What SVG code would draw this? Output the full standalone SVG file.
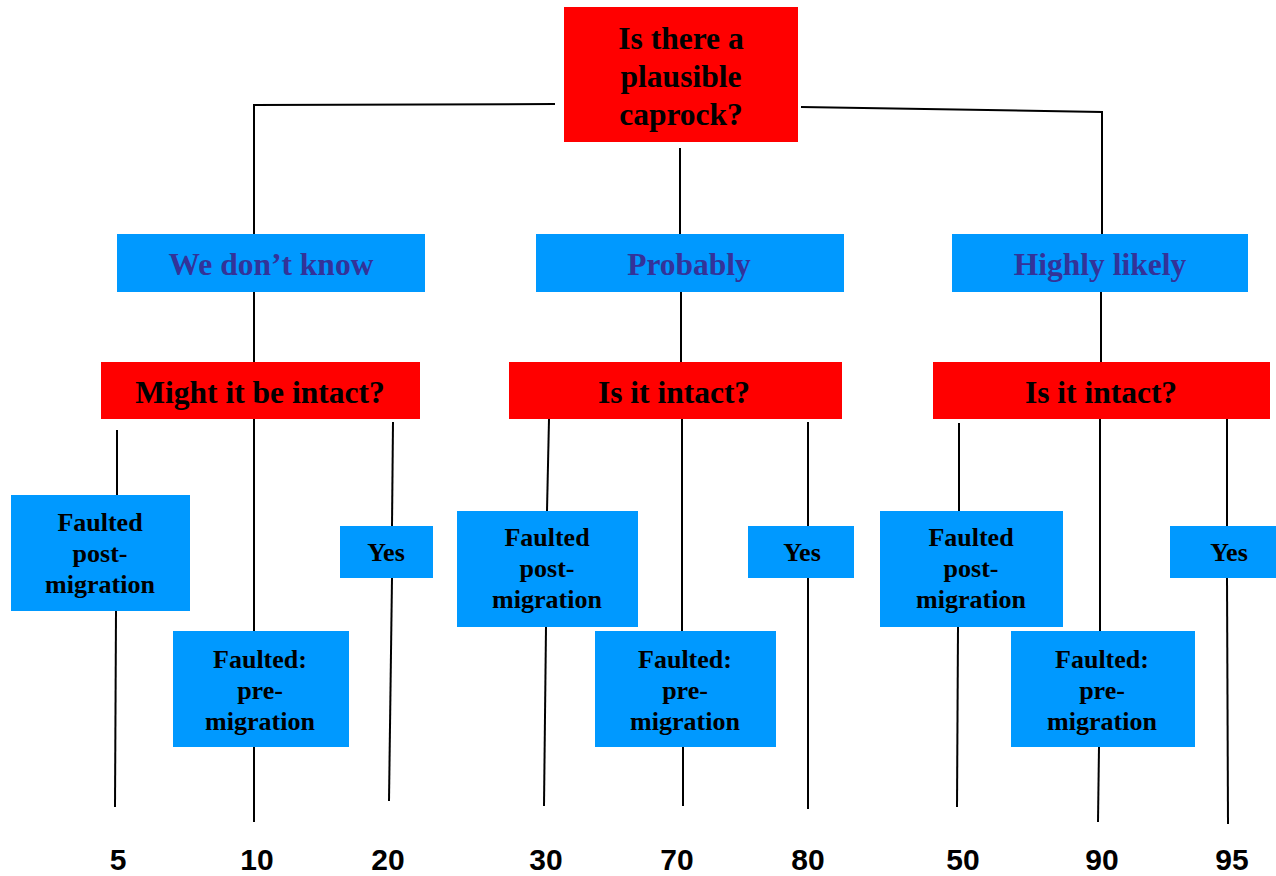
<svg xmlns="http://www.w3.org/2000/svg" width="1276" height="876" viewBox="0 0 1276 876">
<style>
.red{fill:#FF0000}
.blue{fill:#0099FF}
.q{font-family:"Liberation Serif","Times New Roman",serif;font-weight:bold;font-size:31.5px;fill:#000;text-anchor:middle}
.a{font-family:"Liberation Serif","Times New Roman",serif;font-weight:bold;font-size:31.5px;fill:#333399;text-anchor:middle}
.s{font-family:"Liberation Serif","Times New Roman",serif;font-weight:bold;font-size:26px;fill:#000;text-anchor:middle}
.n{font-family:"Liberation Sans",Arial,sans-serif;font-weight:bold;font-size:30px;fill:#000;text-anchor:middle}
.ln{stroke:#000;stroke-width:2;fill:none}
</style>
<rect width="1276" height="876" fill="#fff"/>
<g id="connectors" class="ln">
<polyline points="555,104 254,105 254,234"/>
<polyline points="801,107 1102,112 1102,234"/>
<line x1="680" y1="148" x2="680" y2="234"/>
<line x1="254" y1="292" x2="254" y2="362"/>
<line x1="681" y1="292" x2="681" y2="362"/>
<line x1="1101" y1="292" x2="1101" y2="362"/>
<line x1="117" y1="430" x2="117" y2="495"/>
<line x1="116" y1="611" x2="115" y2="807"/>
<line x1="254" y1="419" x2="254" y2="631"/>
<line x1="254" y1="747" x2="254" y2="822"/>
<line x1="393" y1="422" x2="392" y2="526"/>
<line x1="392" y1="578" x2="389" y2="801"/>
<line x1="549" y1="419" x2="547" y2="511"/>
<line x1="546" y1="627" x2="544" y2="806"/>
<line x1="682" y1="419" x2="682" y2="631"/>
<line x1="683" y1="747" x2="683" y2="806"/>
<line x1="808" y1="422" x2="808" y2="526"/>
<line x1="808" y1="578" x2="808" y2="809"/>
<line x1="959" y1="423" x2="959" y2="511"/>
<line x1="958" y1="627" x2="957" y2="807"/>
<line x1="1100" y1="419" x2="1100" y2="631"/>
<line x1="1099" y1="747" x2="1098" y2="822"/>
<line x1="1227" y1="419" x2="1227" y2="526"/>
<line x1="1227" y1="578" x2="1228" y2="824"/>
</g>
<g id="n-root"><rect class="red" x="564" y="7" width="234" height="135"/>
<text class="q" x="681" y="49">Is there a</text><text class="q" x="681" y="87">plausible</text><text class="q" x="681" y="125">caprock?</text></g>
<g id="n-dontknow"><rect class="blue" x="117" y="234" width="308" height="58"/><text class="a" x="271" y="275">We don’t know</text></g>
<g id="n-probably"><rect class="blue" x="536" y="234" width="308" height="58"/><text class="a" x="689" y="275">Probably</text></g>
<g id="n-highly"><rect class="blue" x="952" y="234" width="296" height="58"/><text class="a" x="1100" y="275">Highly likely</text></g>
<g id="n-might"><rect class="red" x="101" y="362" width="319" height="57"/><text class="q" x="260" y="403">Might it be intact?</text></g>
<g id="n-intact1"><rect class="red" x="509" y="362" width="333" height="57"/><text class="q" x="674" y="403">Is it intact?</text></g>
<g id="n-intact2"><rect class="red" x="933" y="362" width="337" height="57"/><text class="q" x="1101" y="403">Is it intact?</text></g>
<g id="n-post1"><rect class="blue" x="11" y="495" width="179" height="116"/>
<text class="s" x="100" y="531">Faulted</text><text class="s" x="100" y="562">post-</text><text class="s" x="100" y="593">migration</text></g>
<g id="n-pre1"><rect class="blue" x="173" y="631" width="176" height="116"/>
<text class="s" x="260" y="668">Faulted:</text><text class="s" x="260" y="699">pre-</text><text class="s" x="260" y="730">migration</text></g>
<g id="n-yes1"><rect class="blue" x="340" y="526" width="93" height="52"/><text class="s" x="386" y="561">Yes</text></g>
<g id="n-post2"><rect class="blue" x="457" y="511" width="181" height="116"/>
<text class="s" x="547" y="546">Faulted</text><text class="s" x="547" y="577">post-</text><text class="s" x="547" y="608">migration</text></g>
<g id="n-pre2"><rect class="blue" x="595" y="631" width="181" height="116"/>
<text class="s" x="685" y="668">Faulted:</text><text class="s" x="685" y="699">pre-</text><text class="s" x="685" y="730">migration</text></g>
<g id="n-yes2"><rect class="blue" x="748" y="526" width="106" height="52"/><text class="s" x="802" y="561">Yes</text></g>
<g id="n-post3"><rect class="blue" x="880" y="511" width="183" height="116"/>
<text class="s" x="971" y="546">Faulted</text><text class="s" x="971" y="577">post-</text><text class="s" x="971" y="608">migration</text></g>
<g id="n-pre3"><rect class="blue" x="1011" y="631" width="184" height="116"/>
<text class="s" x="1102" y="668">Faulted:</text><text class="s" x="1102" y="699">pre-</text><text class="s" x="1102" y="730">migration</text></g>
<g id="n-yes3"><rect class="blue" x="1170" y="526" width="106" height="52"/><text class="s" x="1229" y="561">Yes</text></g>
<g id="values">
<text class="n" x="118" y="870">5</text>
<text class="n" x="257" y="870">10</text>
<text class="n" x="388" y="870">20</text>
<text class="n" x="546" y="870">30</text>
<text class="n" x="677" y="870">70</text>
<text class="n" x="808" y="870">80</text>
<text class="n" x="963" y="870">50</text>
<text class="n" x="1102" y="870">90</text>
<text class="n" x="1232" y="870">95</text>
</g>
</svg>
